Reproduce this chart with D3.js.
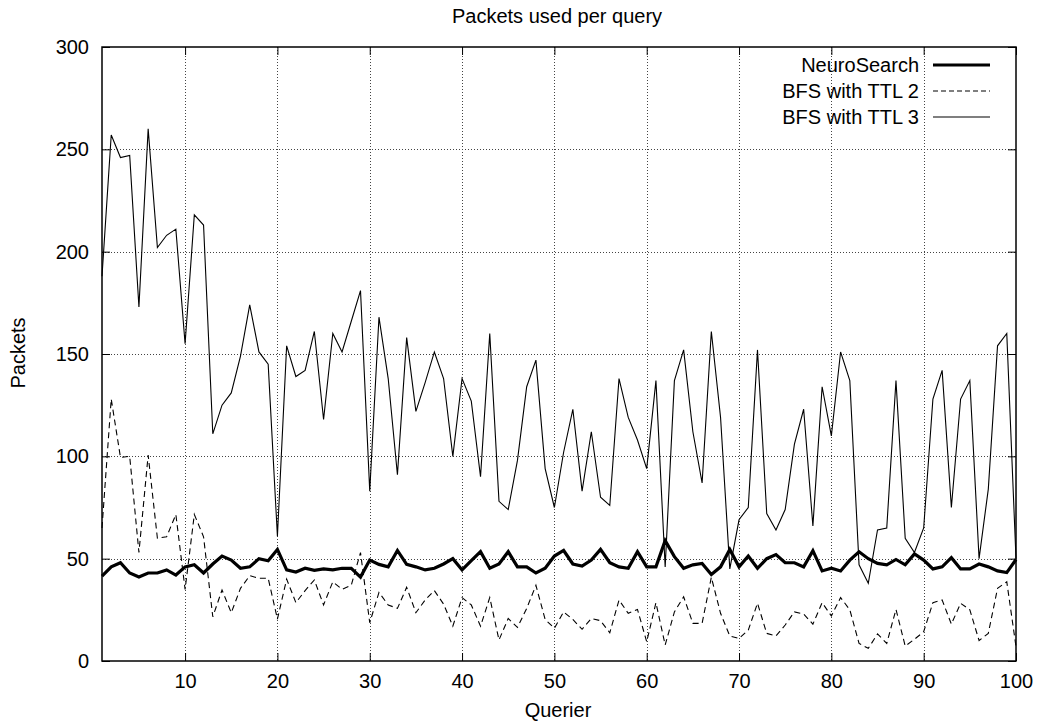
<!DOCTYPE html>
<html>
  <head>
    <script src="https://d3js.org/d3.v7.min.js"></script>
    <style>
      body { margin: 0; background: #fff; }
      text { font-family: "Liberation Sans", Arial, sans-serif; fill: #000; }
    </style>
  </head>
  <body>
    <svg id="chart" width="1038" height="721"></svg>

    <script>

      // packets per query, querier 1..100
      var ttl3 = [188,257,246,247,173,260,202,208,211,155,
                  218,213,111,125,131,149,174,151,145,61,
                  154,139,142,161,118,160,151,166,181,83,
                  168,138,91,158,122,136,151,138,100,138,
                  127,90,160,78,74,98,134,147,94,75,
                  102,123,83,112,80,76,138,119,108,94,
                  137,46,137,152,112,87,161,119,45,69,
                  75,152,72,64,74,106,123,66,134,110,
                  151,137,47,38,64,65,137,60,53,65,
                  128,142,75,128,137,50,84,154,160,50]

      var neuro = [41.5,46,48,43,41,43,43,44.5,42,46,
                   47,43,47.4,51.3,49.3,45.3,46,50,49,54.5,
                   44.5,43.5,45.3,44.3,45,44.5,45.3,45.3,41,49.3,
                   47.2,46,54,47.2,46,44.5,45.3,47.4,50,44.5,
                   49,53.4,45.3,47.4,53.4,46,46,43,45.3,51.3,
                   54,47.4,46.4,49.3,54.5,48,46,45.3,53.4,46,
                   46,58.8,51,45.3,47,47.7,42.3,46,54.5,46,
                   51.3,45.3,50,52,48,48,46,53.9,44,45.3,
                   44,49.3,53.4,50,47.7,47,49.6,47,52.3,49.3,
                   45,46,50.5,45,45,47.4,46,44,43.2,49.6]

      var ttl2 = [65,128,99.5,100,53,100.6,60,60.7,71.6,35,
                  71.6,60.7,21.6,34.7,23.6,35.5,41.7,40.4,40.4,20.5,
                  40,28.5,34.4,39.6,27.4,38.7,35,37,53,18.7,
                  33.5,27.4,25.7,36,23.6,29.8,34.4,27.8,17,31,
                  27.4,17,31,10.3,20.8,16.4,25.7,37,20.3,16,
                  24,20.3,15.5,20.8,19.7,13.8,29.8,23.3,25.2,9.4,
                  28.5,7.8,24,31.4,18.4,18.4,40.9,23.3,12.2,11,
                  15.1,28.2,13.5,12.2,17.6,24,23,18,28.5,22,
                  31,25,8.6,6.2,13.2,8.6,25.2,7.3,10.6,14.3,
                  28.5,29.8,18,28.2,25,10,13.5,35.5,38.7,7]

      var xTicks = [10,20,30,40,50,60,70,80,90,100]
      var yTicks = [0,50,100,150,200,250,300]
      var seriesNames = ["NeuroSearch", "BFS with TTL 2", "BFS with TTL 3"]

      var plotLeft = 102, plotRight = 1016, plotTop = 47, plotBottom = 661

      var x = d3.scaleLinear().domain([1, 100]).range([plotLeft, plotRight])
      var y = d3.scaleLinear().domain([0, 300]).range([plotBottom, plotTop])

      var svg = d3.select("#chart")

      // grid, dotted
      var grid = svg.append("g")
        .attr("stroke", "#444")
        .attr("stroke-width", 1)
        .attr("stroke-dasharray", "1,2")
      grid.selectAll("line.gx")
        .data(xTicks.filter(function(d) { return d < 100 }))
        .enter().append("line")
        .attr("x1", function(d) { return Math.round(x(d)) + 0.5 })
        .attr("x2", function(d) { return Math.round(x(d)) + 0.5 })
        .attr("y1", plotTop).attr("y2", plotBottom)
      grid.selectAll("line.gy")
        .data(yTicks.filter(function(d) { return d > 0 && d < 300 }))
        .enter().append("line")
        .attr("x1", plotLeft).attr("x2", plotRight)
        .attr("y1", function(d) { return Math.round(y(d)) + 0.5 })
        .attr("y2", function(d) { return Math.round(y(d)) + 0.5 })

      // axes with inward ticks, mirrored on top and right
      var tickLen = 8
      svg.append("g").attr("transform", "translate(0," + plotBottom + ")")
        .call(d3.axisBottom(x).tickValues(xTicks).tickSize(-tickLen).tickPadding(13))
      svg.append("g").attr("transform", "translate(0," + plotTop + ")")
        .call(d3.axisTop(x).tickValues(xTicks).tickSize(-tickLen).tickFormat(""))
      svg.append("g").attr("transform", "translate(" + plotLeft + ",0)")
        .call(d3.axisLeft(y).tickValues(yTicks).tickSize(-tickLen).tickPadding(13))
      svg.append("g").attr("transform", "translate(" + plotRight + ",0)")
        .call(d3.axisRight(y).tickValues(yTicks).tickSize(-tickLen).tickFormat(""))

      svg.selectAll(".domain").remove()
      svg.selectAll(".tick line").attr("stroke", "#000").attr("stroke-width", 1)
      svg.selectAll(".tick text")
        .style("font-size", "20px")
        .style("font-family", "'Liberation Sans', Arial, sans-serif")
        .attr("fill", "#000")

      // frame
      svg.append("rect")
        .attr("x", plotLeft).attr("y", plotTop)
        .attr("width", plotRight - plotLeft).attr("height", plotBottom - plotTop)
        .attr("fill", "none").attr("stroke", "#000").attr("stroke-width", 1.5)

      // lines
      var line = d3.line()
        .x(function(d, i) { return x(i + 1) })
        .y(function(d) { return y(d) })

      svg.append("path").datum(ttl3)
        .attr("d", line).attr("fill", "none")
        .attr("stroke", "#000").attr("stroke-width", 1.1)

      svg.append("path").datum(ttl2)
        .attr("d", line).attr("fill", "none")
        .attr("stroke", "#000").attr("stroke-width", 1.1)
        .attr("stroke-dasharray", "6,4")

      svg.append("path").datum(neuro)
        .attr("d", line).attr("fill", "none")
        .attr("stroke", "#000").attr("stroke-width", 3.2)
        .attr("stroke-linejoin", "miter")

      // legend
      var legendY = [65, 91, 117]
      var legendStyle = [
        { w: 3.2, dash: null },
        { w: 1.1, dash: "5,3" },
        { w: 1.1, dash: null }
      ]
      var legend = svg.append("g")
      legend.selectAll("text")
        .data(seriesNames)
        .enter().append("text")
        .attr("x", 919)
        .attr("y", function(d, i) { return legendY[i] + 7 })
        .attr("text-anchor", "end")
        .style("font-size", "20px")
        .text(function(d) { return d })
      legend.selectAll("line")
        .data(seriesNames)
        .enter().append("line")
        .attr("x1", 933).attr("x2", 990)
        .attr("y1", function(d, i) { return legendY[i] })
        .attr("y2", function(d, i) { return legendY[i] })
        .attr("stroke", "#000")
        .attr("stroke-width", function(d, i) { return legendStyle[i].w })
        .attr("stroke-dasharray", function(d, i) { return legendStyle[i].dash })

      // titles
      svg.append("text")
        .attr("x", 557).attr("y", 23)
        .attr("text-anchor", "middle")
        .style("font-size", "20px")
        .text("Packets used per query")

      svg.append("text")
        .attr("x", 558).attr("y", 717)
        .attr("text-anchor", "middle")
        .style("font-size", "20px")
        .text("Querier")

      svg.append("text")
        .attr("transform", "translate(25,353) rotate(-90)")
        .attr("text-anchor", "middle")
        .style("font-size", "20px")
        .text("Packets")

    </script>
  </body>
</html>
